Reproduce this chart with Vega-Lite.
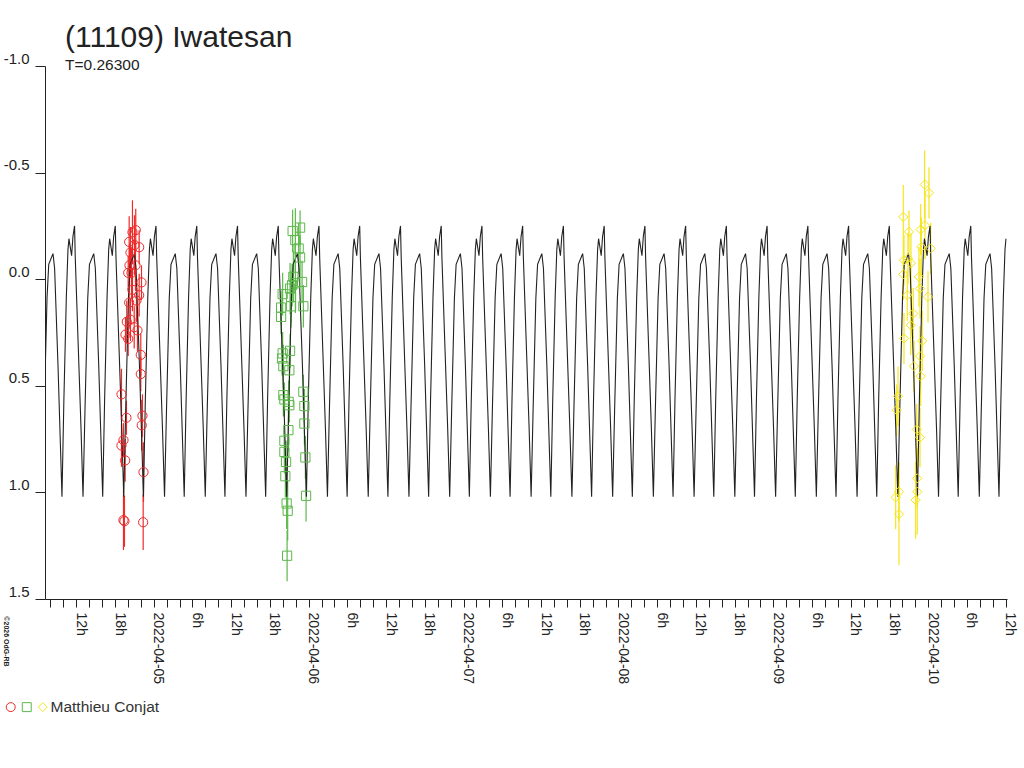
{
  "$schema": "https://vega.github.io/schema/vega-lite/v6.json",
  "width": 962,
  "height": 533,
  "autosize": {"type": "none"},
  "padding": {"left": 45, "top": 66, "right": 17, "bottom": 169},
  "background": "white",
  "title": {
    "text": "(11109) Iwatesan",
    "subtitle": "T=0.26300",
    "anchor": "start",
    "frame": "group",
    "dx": 20,
    "offset": -22,
    "font": "Liberation Sans",
    "fontSize": 30,
    "fontWeight": "normal",
    "color": "#222222",
    "subtitleFont": "Liberation Sans",
    "subtitleFontSize": 15.5,
    "subtitleColor": "#222222",
    "subtitlePadding": 5
  },
  "datasets": {
    "model": [
      {"t":-17.27,"v":1.02},{"t":-16.97,"v":0.62},{"t":-16.54,"v":0.09},{"t":-16.27,"v":-0.07},{"t":-15.61,"v":-0.12},{"t":-15.36,"v":-0.05},{"t":-14.84,"v":0.40},{"t":-14.42,"v":0.82},{"t":-14.22,"v":1.02},{"t":-13.92,"v":0.56},{"t":-13.55,"v":0.09},{"t":-13.29,"v":-0.14},{"t":-13.14,"v":-0.19},{"t":-12.73,"v":-0.11},{"t":-12.52,"v":-0.20},{"t":-12.27,"v":-0.25},{"t":-12.16,"v":-0.10},{"t":-11.67,"v":0.34},{"t":-11.27,"v":0.70},
      {"t":-10.96,"v":1.02},{"t":-10.66,"v":0.62},{"t":-10.23,"v":0.09},{"t":-9.96,"v":-0.07},{"t":-9.30,"v":-0.12},{"t":-9.05,"v":-0.05},{"t":-8.53,"v":0.40},{"t":-8.11,"v":0.82},{"t":-7.91,"v":1.02},{"t":-7.61,"v":0.56},{"t":-7.24,"v":0.09},{"t":-6.98,"v":-0.14},{"t":-6.83,"v":-0.19},{"t":-6.42,"v":-0.11},{"t":-6.21,"v":-0.20},{"t":-5.96,"v":-0.25},{"t":-5.85,"v":-0.10},{"t":-5.36,"v":0.34},{"t":-4.96,"v":0.70},
      {"t":-4.65,"v":1.02},{"t":-4.35,"v":0.62},{"t":-3.92,"v":0.09},{"t":-3.65,"v":-0.07},{"t":-2.99,"v":-0.12},{"t":-2.74,"v":-0.05},{"t":-2.22,"v":0.40},{"t":-1.80,"v":0.82},{"t":-1.60,"v":1.02},{"t":-1.30,"v":0.56},{"t":-0.93,"v":0.09},{"t":-0.67,"v":-0.14},{"t":-0.52,"v":-0.19},{"t":-0.11,"v":-0.11},{"t":0.10,"v":-0.20},{"t":0.35,"v":-0.25},{"t":0.46,"v":-0.10},{"t":0.95,"v":0.34},{"t":1.35,"v":0.70},
      {"t":1.67,"v":1.02},{"t":1.97,"v":0.62},{"t":2.40,"v":0.09},{"t":2.67,"v":-0.07},{"t":3.33,"v":-0.12},{"t":3.58,"v":-0.05},{"t":4.10,"v":0.40},{"t":4.52,"v":0.82},{"t":4.72,"v":1.02},{"t":5.02,"v":0.56},{"t":5.39,"v":0.09},{"t":5.65,"v":-0.14},{"t":5.80,"v":-0.19},{"t":6.21,"v":-0.11},{"t":6.42,"v":-0.20},{"t":6.67,"v":-0.25},{"t":6.78,"v":-0.10},{"t":7.27,"v":0.34},{"t":7.67,"v":0.70},
      {"t":7.98,"v":1.02},{"t":8.28,"v":0.62},{"t":8.71,"v":0.09},{"t":8.98,"v":-0.07},{"t":9.64,"v":-0.12},{"t":9.89,"v":-0.05},{"t":10.41,"v":0.40},{"t":10.83,"v":0.82},{"t":11.03,"v":1.02},{"t":11.33,"v":0.56},{"t":11.70,"v":0.09},{"t":11.96,"v":-0.14},{"t":12.11,"v":-0.19},{"t":12.52,"v":-0.11},{"t":12.73,"v":-0.20},{"t":12.98,"v":-0.25},{"t":13.09,"v":-0.10},{"t":13.58,"v":0.34},{"t":13.98,"v":0.70},
      {"t":14.29,"v":1.02},{"t":14.59,"v":0.62},{"t":15.02,"v":0.09},{"t":15.29,"v":-0.07},{"t":15.95,"v":-0.12},{"t":16.20,"v":-0.05},{"t":16.72,"v":0.40},{"t":17.14,"v":0.82},{"t":17.34,"v":1.02},{"t":17.64,"v":0.56},{"t":18.01,"v":0.09},{"t":18.27,"v":-0.14},{"t":18.42,"v":-0.19},{"t":18.83,"v":-0.11},{"t":19.04,"v":-0.20},{"t":19.29,"v":-0.25},{"t":19.40,"v":-0.10},{"t":19.89,"v":0.34},{"t":20.29,"v":0.70},
      {"t":20.60,"v":1.02},{"t":20.90,"v":0.62},{"t":21.33,"v":0.09},{"t":21.60,"v":-0.07},{"t":22.26,"v":-0.12},{"t":22.51,"v":-0.05},{"t":23.03,"v":0.40},{"t":23.45,"v":0.82},{"t":23.65,"v":1.02},{"t":23.95,"v":0.56},{"t":24.32,"v":0.09},{"t":24.58,"v":-0.14},{"t":24.73,"v":-0.19},{"t":25.14,"v":-0.11},{"t":25.35,"v":-0.20},{"t":25.60,"v":-0.25},{"t":25.71,"v":-0.10},{"t":26.20,"v":0.34},{"t":26.60,"v":0.70},
      {"t":26.91,"v":1.02},{"t":27.21,"v":0.62},{"t":27.64,"v":0.09},{"t":27.91,"v":-0.07},{"t":28.57,"v":-0.12},{"t":28.82,"v":-0.05},{"t":29.34,"v":0.40},{"t":29.76,"v":0.82},{"t":29.96,"v":1.02},{"t":30.26,"v":0.56},{"t":30.63,"v":0.09},{"t":30.89,"v":-0.14},{"t":31.04,"v":-0.19},{"t":31.45,"v":-0.11},{"t":31.66,"v":-0.20},{"t":31.91,"v":-0.25},{"t":32.02,"v":-0.10},{"t":32.51,"v":0.34},{"t":32.91,"v":0.70},
      {"t":33.23,"v":1.02},{"t":33.53,"v":0.62},{"t":33.96,"v":0.09},{"t":34.23,"v":-0.07},{"t":34.89,"v":-0.12},{"t":35.14,"v":-0.05},{"t":35.66,"v":0.40},{"t":36.08,"v":0.82},{"t":36.28,"v":1.02},{"t":36.58,"v":0.56},{"t":36.95,"v":0.09},{"t":37.21,"v":-0.14},{"t":37.36,"v":-0.19},{"t":37.77,"v":-0.11},{"t":37.98,"v":-0.20},{"t":38.23,"v":-0.25},{"t":38.34,"v":-0.10},{"t":38.83,"v":0.34},{"t":39.23,"v":0.70},
      {"t":39.54,"v":1.02},{"t":39.84,"v":0.62},{"t":40.27,"v":0.09},{"t":40.54,"v":-0.07},{"t":41.20,"v":-0.12},{"t":41.45,"v":-0.05},{"t":41.97,"v":0.40},{"t":42.39,"v":0.82},{"t":42.59,"v":1.02},{"t":42.89,"v":0.56},{"t":43.26,"v":0.09},{"t":43.52,"v":-0.14},{"t":43.67,"v":-0.19},{"t":44.08,"v":-0.11},{"t":44.29,"v":-0.20},{"t":44.54,"v":-0.25},{"t":44.65,"v":-0.10},{"t":45.14,"v":0.34},{"t":45.54,"v":0.70},
      {"t":45.85,"v":1.02},{"t":46.15,"v":0.62},{"t":46.58,"v":0.09},{"t":46.85,"v":-0.07},{"t":47.51,"v":-0.12},{"t":47.76,"v":-0.05},{"t":48.28,"v":0.40},{"t":48.70,"v":0.82},{"t":48.90,"v":1.02},{"t":49.20,"v":0.56},{"t":49.57,"v":0.09},{"t":49.83,"v":-0.14},{"t":49.98,"v":-0.19},{"t":50.39,"v":-0.11},{"t":50.60,"v":-0.20},{"t":50.85,"v":-0.25},{"t":50.96,"v":-0.10},{"t":51.45,"v":0.34},{"t":51.85,"v":0.70},
      {"t":52.16,"v":1.02},{"t":52.46,"v":0.62},{"t":52.89,"v":0.09},{"t":53.16,"v":-0.07},{"t":53.82,"v":-0.12},{"t":54.07,"v":-0.05},{"t":54.59,"v":0.40},{"t":55.01,"v":0.82},{"t":55.21,"v":1.02},{"t":55.51,"v":0.56},{"t":55.88,"v":0.09},{"t":56.14,"v":-0.14},{"t":56.29,"v":-0.19},{"t":56.70,"v":-0.11},{"t":56.91,"v":-0.20},{"t":57.16,"v":-0.25},{"t":57.27,"v":-0.10},{"t":57.76,"v":0.34},{"t":58.16,"v":0.70},
      {"t":58.47,"v":1.02},{"t":58.77,"v":0.62},{"t":59.20,"v":0.09},{"t":59.47,"v":-0.07},{"t":60.13,"v":-0.12},{"t":60.38,"v":-0.05},{"t":60.90,"v":0.40},{"t":61.32,"v":0.82},{"t":61.52,"v":1.02},{"t":61.82,"v":0.56},{"t":62.19,"v":0.09},{"t":62.45,"v":-0.14},{"t":62.60,"v":-0.19},{"t":63.01,"v":-0.11},{"t":63.22,"v":-0.20},{"t":63.47,"v":-0.25},{"t":63.58,"v":-0.10},{"t":64.07,"v":0.34},{"t":64.47,"v":0.70},
      {"t":64.79,"v":1.02},{"t":65.09,"v":0.62},{"t":65.52,"v":0.09},{"t":65.79,"v":-0.07},{"t":66.45,"v":-0.12},{"t":66.70,"v":-0.05},{"t":67.22,"v":0.40},{"t":67.64,"v":0.82},{"t":67.84,"v":1.02},{"t":68.14,"v":0.56},{"t":68.51,"v":0.09},{"t":68.77,"v":-0.14},{"t":68.92,"v":-0.19},{"t":69.33,"v":-0.11},{"t":69.54,"v":-0.20},{"t":69.79,"v":-0.25},{"t":69.90,"v":-0.10},{"t":70.39,"v":0.34},{"t":70.79,"v":0.70},
      {"t":71.10,"v":1.02},{"t":71.40,"v":0.62},{"t":71.83,"v":0.09},{"t":72.10,"v":-0.07},{"t":72.76,"v":-0.12},{"t":73.01,"v":-0.05},{"t":73.53,"v":0.40},{"t":73.95,"v":0.82},{"t":74.15,"v":1.02},{"t":74.45,"v":0.56},{"t":74.82,"v":0.09},{"t":75.08,"v":-0.14},{"t":75.23,"v":-0.19},{"t":75.64,"v":-0.11},{"t":75.85,"v":-0.20},{"t":76.10,"v":-0.25},{"t":76.21,"v":-0.10},{"t":76.70,"v":0.34},{"t":77.10,"v":0.70},
      {"t":77.41,"v":1.02},{"t":77.71,"v":0.62},{"t":78.14,"v":0.09},{"t":78.41,"v":-0.07},{"t":79.07,"v":-0.12},{"t":79.32,"v":-0.05},{"t":79.84,"v":0.40},{"t":80.26,"v":0.82},{"t":80.46,"v":1.02},{"t":80.76,"v":0.56},{"t":81.13,"v":0.09},{"t":81.39,"v":-0.14},{"t":81.54,"v":-0.19},{"t":81.95,"v":-0.11},{"t":82.16,"v":-0.20},{"t":82.41,"v":-0.25},{"t":82.52,"v":-0.10},{"t":83.01,"v":0.34},{"t":83.41,"v":0.70},
      {"t":83.72,"v":1.02},{"t":84.02,"v":0.62},{"t":84.45,"v":0.09},{"t":84.72,"v":-0.07},{"t":85.38,"v":-0.12},{"t":85.63,"v":-0.05},{"t":86.15,"v":0.40},{"t":86.57,"v":0.82},{"t":86.77,"v":1.02},{"t":87.07,"v":0.56},{"t":87.44,"v":0.09},{"t":87.70,"v":-0.14},{"t":87.85,"v":-0.19},{"t":88.26,"v":-0.11},{"t":88.47,"v":-0.20},{"t":88.72,"v":-0.25},{"t":88.83,"v":-0.10},{"t":89.32,"v":0.34},{"t":89.72,"v":0.70},
      {"t":90.03,"v":1.02},{"t":90.33,"v":0.62},{"t":90.76,"v":0.09},{"t":91.03,"v":-0.07},{"t":91.69,"v":-0.12},{"t":91.94,"v":-0.05},{"t":92.46,"v":0.40},{"t":92.88,"v":0.82},{"t":93.08,"v":1.02},{"t":93.38,"v":0.56},{"t":93.75,"v":0.09},{"t":94.01,"v":-0.14},{"t":94.16,"v":-0.19},{"t":94.57,"v":-0.11},{"t":94.78,"v":-0.20},{"t":95.03,"v":-0.25},{"t":95.14,"v":-0.10},{"t":95.63,"v":0.34},{"t":96.03,"v":0.70},
      {"t":96.35,"v":1.02},{"t":96.65,"v":0.62},{"t":97.08,"v":0.09},{"t":97.35,"v":-0.07},{"t":98.01,"v":-0.12},{"t":98.26,"v":-0.05},{"t":98.78,"v":0.40},{"t":99.20,"v":0.82},{"t":99.40,"v":1.02},{"t":99.70,"v":0.56},{"t":100.07,"v":0.09},{"t":100.33,"v":-0.14},{"t":100.48,"v":-0.19},{"t":100.89,"v":-0.11},{"t":101.10,"v":-0.20},{"t":101.35,"v":-0.25},{"t":101.46,"v":-0.10},{"t":101.95,"v":0.34},{"t":102.35,"v":0.70},
      {"t":102.66,"v":1.02},{"t":102.96,"v":0.62},{"t":103.39,"v":0.09},{"t":103.66,"v":-0.07},{"t":104.32,"v":-0.12},{"t":104.57,"v":-0.05},{"t":105.09,"v":0.40},{"t":105.51,"v":0.82},{"t":105.71,"v":1.02},{"t":106.01,"v":0.56},{"t":106.38,"v":0.09},{"t":106.64,"v":-0.14},{"t":106.79,"v":-0.19},{"t":107.20,"v":-0.11},{"t":107.41,"v":-0.20},{"t":107.66,"v":-0.25},{"t":107.77,"v":-0.10},{"t":108.26,"v":0.34},{"t":108.66,"v":0.70},
      {"t":108.97,"v":1.02},{"t":109.27,"v":0.62},{"t":109.70,"v":0.09},{"t":109.97,"v":-0.07},{"t":110.63,"v":-0.12},{"t":110.88,"v":-0.05},{"t":111.40,"v":0.40},{"t":111.82,"v":0.82},{"t":112.02,"v":1.02},{"t":112.32,"v":0.56},{"t":112.69,"v":0.09},{"t":112.95,"v":-0.14},{"t":113.10,"v":-0.19},{"t":113.51,"v":-0.11},{"t":113.72,"v":-0.20},{"t":113.97,"v":-0.25},{"t":114.08,"v":-0.10},{"t":114.57,"v":0.34},{"t":114.97,"v":0.70},
      {"t":115.28,"v":1.02},{"t":115.58,"v":0.62},{"t":116.01,"v":0.09},{"t":116.28,"v":-0.07},{"t":116.94,"v":-0.12},{"t":117.19,"v":-0.05},{"t":117.71,"v":0.40},{"t":118.13,"v":0.82},{"t":118.33,"v":1.02},{"t":118.63,"v":0.56},{"t":119.00,"v":0.09},{"t":119.26,"v":-0.14},{"t":119.41,"v":-0.19},{"t":119.82,"v":-0.11},{"t":120.03,"v":-0.20},{"t":120.28,"v":-0.25},{"t":120.39,"v":-0.10},{"t":120.88,"v":0.34},{"t":121.28,"v":0.70},
      {"t":121.59,"v":1.02},{"t":121.89,"v":0.62},{"t":122.32,"v":0.09},{"t":122.59,"v":-0.07},{"t":123.25,"v":-0.12},{"t":123.50,"v":-0.05},{"t":124.02,"v":0.40},{"t":124.44,"v":0.82},{"t":124.64,"v":1.02},{"t":124.94,"v":0.56},{"t":125.31,"v":0.09},{"t":125.57,"v":-0.14},{"t":125.72,"v":-0.19},{"t":126.13,"v":-0.11},{"t":126.34,"v":-0.20},{"t":126.59,"v":-0.25},{"t":126.70,"v":-0.10},{"t":127.19,"v":0.34},{"t":127.59,"v":0.70},
      {"t":127.91,"v":1.02},{"t":128.21,"v":0.62},{"t":128.64,"v":0.09},{"t":128.91,"v":-0.07},{"t":129.57,"v":-0.12},{"t":129.82,"v":-0.05},{"t":130.34,"v":0.40},{"t":130.76,"v":0.82},{"t":130.96,"v":1.02},{"t":131.26,"v":0.56},{"t":131.63,"v":0.09},{"t":131.89,"v":-0.14},{"t":132.04,"v":-0.19}
    ],
    "obs": [
      {"s":"A","t":-5.00,"v":0.54,"e":0.12},{"s":"A","t":-4.69,"v":0.755,"e":0.08},{"s":"A","t":-5.00,"v":0.78,"e":0.10},{"s":"A","t":-4.23,"v":0.65,"e":0.08},{"s":"A","t":-4.43,"v":0.85,"e":0.10},{"s":"A","t":-4.69,"v":1.13,"e":0.14},{"s":"A","t":-4.54,"v":1.135,"e":0.12},{"s":"A","t":-2.01,"v":0.445,"e":0.08},{"s":"A","t":-1.75,"v":0.64,"e":0.10},{"s":"A","t":-1.86,"v":0.685,"e":0.12},{"s":"A","t":-1.59,"v":0.905,"e":0.14},{"s":"A","t":-1.64,"v":1.14,"e":0.13},{"s":"A","t":-2.79,"v":-0.23,"e":0.10},{"s":"A","t":-3.81,"v":-0.175,"e":0.12},{"s":"A","t":-2.26,"v":-0.15,"e":0.08},{"s":"A","t":-3.96,"v":-0.03,"e":0.08},{"s":"A","t":-1.90,"v":0.015,"e":0.08},{"s":"A","t":-2.26,"v":0.075,"e":0.10},{"s":"A","t":-3.81,"v":0.11,"e":0.10},{"s":"A","t":-4.18,"v":0.20,"e":0.10},{"s":"A","t":-3.03,"v":0.225,"e":0.10},{"s":"A","t":-3.96,"v":0.28,"e":0.08},{"s":"A","t":-2.01,"v":0.355,"e":0.10},{"s":"A","t":-3.30,"v":-0.22,"e":0.15},{"s":"A","t":-3.61,"v":-0.125,"e":0.12},{"s":"A","t":-3.30,"v":0.05,"e":0.10},{"s":"A","t":-3.76,"v":-0.065,"e":0.10},{"s":"A","t":-2.83,"v":-0.065,"e":0.12},{"s":"A","t":-2.68,"v":0.10,"e":0.10},{"s":"A","t":-3.61,"v":0.19,"e":0.10},{"s":"A","t":-2.52,"v":0.24,"e":0.10},{"s":"A","t":-4.38,"v":0.26,"e":0.08},{"s":"A","t":-2.99,"v":-0.16,"e":0.14},{"s":"A","t":-3.45,"v":-0.03,"e":0.12},
      {"s":"B","t":21.52,"v":-0.226,"e":0.10},{"s":"B","t":22.67,"v":-0.242,"e":0.08},{"s":"B","t":21.94,"v":-0.183,"e":0.15},{"s":"B","t":22.45,"v":-0.144,"e":0.12},{"s":"B","t":22.67,"v":-0.102,"e":0.10},{"s":"B","t":21.63,"v":-0.011,"e":0.12},{"s":"B","t":22.98,"v":0.013,"e":0.10},{"s":"B","t":21.43,"v":0.028,"e":0.10},{"s":"B","t":21.12,"v":0.044,"e":0.12},{"s":"B","t":21.94,"v":0.019,"e":0.14},{"s":"B","t":19.97,"v":0.07,"e":0.10},{"s":"B","t":21.27,"v":0.127,"e":0.10},{"s":"B","t":23.18,"v":0.127,"e":0.10},{"s":"B","t":19.73,"v":0.133,"e":0.08},{"s":"B","t":19.73,"v":0.177,"e":0.08},{"s":"B","t":21.27,"v":0.083,"e":0.12},{"s":"B","t":19.97,"v":0.348,"e":0.10},{"s":"B","t":21.12,"v":0.336,"e":0.08},{"s":"B","t":19.88,"v":0.372,"e":0.08},{"s":"B","t":20.08,"v":0.408,"e":0.10},{"s":"B","t":21.01,"v":0.427,"e":0.10},{"s":"B","t":20.08,"v":0.544,"e":0.10},{"s":"B","t":20.24,"v":0.564,"e":0.08},{"s":"B","t":20.90,"v":0.575,"e":0.10},{"s":"B","t":21.01,"v":0.591,"e":0.08},{"s":"B","t":23.18,"v":0.528,"e":0.08},{"s":"B","t":23.34,"v":0.595,"e":0.08},{"s":"B","t":23.34,"v":0.677,"e":0.10},{"s":"B","t":20.86,"v":0.708,"e":0.10},{"s":"B","t":20.24,"v":0.758,"e":0.08},{"s":"B","t":20.24,"v":0.810,"e":0.10},{"s":"B","t":20.50,"v":0.857,"e":0.10},{"s":"B","t":23.49,"v":0.836,"e":0.10},{"s":"B","t":20.39,"v":0.924,"e":0.10},{"s":"B","t":23.60,"v":1.016,"e":0.12},{"s":"B","t":20.59,"v":1.052,"e":0.12},{"s":"B","t":20.75,"v":1.086,"e":0.14},{"s":"B","t":20.66,"v":1.297,"e":0.12},
      {"s":"C","t":119.44,"v":-0.444,"e":0.16},{"s":"C","t":120.11,"v":-0.405,"e":0.12},{"s":"C","t":116.13,"v":-0.292,"e":0.15},{"s":"C","t":118.82,"v":-0.233,"e":0.12},{"s":"C","t":117.01,"v":-0.222,"e":0.10},{"s":"C","t":120.37,"v":-0.144,"e":0.12},{"s":"C","t":118.92,"v":-0.151,"e":0.14},{"s":"C","t":116.24,"v":-0.089,"e":0.12},{"s":"C","t":116.86,"v":-0.098,"e":0.12},{"s":"C","t":116.13,"v":-0.023,"e":0.12},{"s":"C","t":118.56,"v":-0.011,"e":0.14},{"s":"C","t":116.75,"v":0.075,"e":0.12},{"s":"C","t":118.72,"v":0.044,"e":0.14},{"s":"C","t":119.96,"v":0.083,"e":0.12},{"s":"C","t":117.68,"v":0.161,"e":0.12},{"s":"C","t":117.28,"v":0.216,"e":0.14},{"s":"C","t":116.24,"v":0.278,"e":0.12},{"s":"C","t":119.07,"v":0.289,"e":0.14},{"s":"C","t":118.72,"v":0.361,"e":0.14},{"s":"C","t":117.79,"v":0.408,"e":0.12},{"s":"C","t":118.82,"v":0.455,"e":0.14},{"s":"C","t":115.31,"v":0.549,"e":0.14},{"s":"C","t":115.11,"v":0.614,"e":0.12},{"s":"C","t":118.21,"v":0.705,"e":0.12},{"s":"C","t":118.72,"v":0.742,"e":0.14},{"s":"C","t":118.30,"v":0.934,"e":0.14},{"s":"C","t":115.46,"v":0.997,"e":0.14},{"s":"C","t":114.95,"v":1.023,"e":0.15},{"s":"C","t":118.30,"v":0.997,"e":0.20},{"s":"C","t":118.05,"v":1.036,"e":0.18},{"s":"C","t":115.46,"v":1.102,"e":0.24},{"s":"C","t":117.32,"v":-0.075,"e":0.14},{"s":"C","t":119.49,"v":-0.253,"e":0.16}
    ]
  },
  "encoding": {
    "x": {
      "field": "t",
      "type": "quantitative",
      "scale": {"domain": [-16.85, 132.2], "nice": false, "zero": false},
      "axis": {
        "title": null,
        "grid": false,
        "values": [-16,-14,-12,-10,-8,-6,-4,-2,0,2,4,6,8,10,12,14,16,18,20,22,24,26,28,30,32,34,36,38,40,42,44,46,48,50,52,54,56,58,60,62,64,66,68,70,72,74,76,78,80,82,84,86,88,90,92,94,96,98,100,102,104,106,108,110,112,114,116,118,120,122,124,126,128,130,132],
        "labelExpr": "datum.value % 24 == 0 ? utcFormat(utc(2022, 3, 5) + datum.value * 3600000, '%Y-%m-%d') : (datum.value % 6 == 0 ? (((datum.value % 24) + 24) % 24) + 'h' : '')",
        "labelAngle": 90,
        "labelAlign": "left",
        "labelBaseline": "alphabetic",
        "labelFont": "Liberation Sans",
        "labelFontSize": 14,
        "labelColor": "#222222",
        "labelPadding": 5,
        "labelOverlap": false,
        "labelFlush": false,
        "tickSize": 8,
        "tickColor": "#222222",
        "domainColor": "#222222"
      }
    },
    "y": {
      "field": "v",
      "type": "quantitative",
      "scale": {"domain": [-1.0, 1.5], "reverse": true, "nice": false, "zero": false},
      "axis": {
        "title": "©2026 OdG-RB",
        "titleAngle": 90,
        "titleX": -40,
        "titleY": 575,
        "titleAlign": "center",
        "titleBaseline": "middle",
        "titleFont": "Liberation Sans",
        "titleFontSize": 7,
        "titleFontWeight": "bold",
        "titleColor": "#222222",
        "grid": false,
        "values": [-1.0, -0.5, 0.0, 0.5, 1.0, 1.5],
        "labelExpr": "datum.value < 0 ? '-' + format(-datum.value, '.1f') : format(datum.value, '.1f')",
        "labelFont": "Liberation Sans",
        "labelFontSize": 15,
        "labelColor": "#222222",
        "labelPadding": 6,
        "labelBaseline": "alphabetic",
        "labelOffset": -3,
        "tickSize": 10,
        "tickColor": "#222222",
        "domainColor": "#222222"
      }
    }
  },
  "layer": [
    {
      "data": {"name": "obs"},
      "mark": {"type": "errorbar", "ticks": false, "thickness": 1.2},
      "encoding": {
        "yError": {"field": "e"},
        "color": {
          "field": "s",
          "type": "nominal",
          "scale": {"domain": ["A", "B", "C"], "range": ["#ee2a2a", "#5cb84a", "#f5e51a"]}
        }
      }
    },
    {
      "data": {"name": "model"},
      "mark": {"type": "line", "color": "#222222", "strokeWidth": 1.1, "clip": true, "interpolate": "linear"},
      "encoding": {}
    },
    {
      "data": {"name": "obs"},
      "mark": {"type": "point", "filled": false, "strokeWidth": 1, "opacity": 1, "size": 85},
      "encoding": {
        "color": {
          "field": "s",
          "type": "nominal",
          "scale": {"domain": ["A", "B", "C"], "range": ["#ee2a2a", "#5cb84a", "#f5e51a"]},
          "legend": {"labelExpr": "datum.label == 'C' ? '\u00a0\u00a0Matthieu Conjat' : ''"}
        },
        "shape": {
          "field": "s",
          "type": "nominal",
          "scale": {"domain": ["A", "B", "C"], "range": ["circle", "square", "diamond"]},
          "legend": {"labelExpr": "datum.label == 'C' ? '\u00a0\u00a0Matthieu Conjat' : ''"}
        }
      }
    }
  ],
  "config": {
    "view": {"stroke": null},
    "axis": {"domainWidth": 1, "tickWidth": 1},
    "legend": {
      "title": null,
      "orient": "none",
      "legendX": -42,
      "legendY": 633,
      "direction": "horizontal",
      "labelFont": "Liberation Sans",
      "labelFontSize": 15.5,
      "labelColor": "#333333",
      "labelOffset": 0,
      "columnPadding": 0,
      "symbolStrokeWidth": 1,
      "symbolOpacity": 1,
      "symbolSize": 80
    }
  }
}
